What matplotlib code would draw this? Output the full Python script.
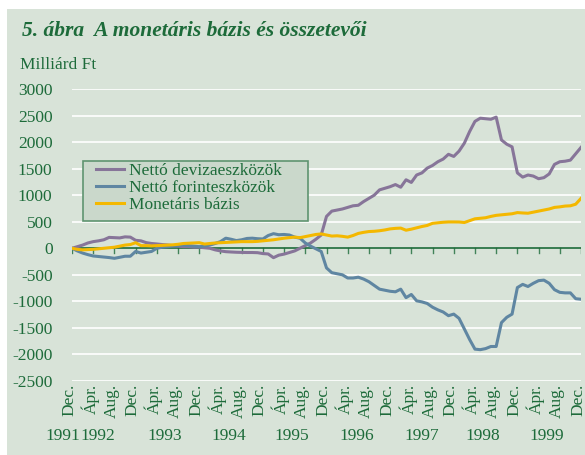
import matplotlib.pyplot as plt
from matplotlib.patches import Rectangle
from matplotlib.transforms import ScaledTranslation

plt.rcParams['font.family'] = ['Liberation Serif', 'DejaVu Serif']

GREEN = "#1d6b3a"
BG = "#d8e3d8"

# monthly values, Dec 1991 .. Dec 1999 (milliárd Ft)
deviza = [0, 30, 60, 100, 125, 140, 160, 205, 200, 195, 215, 210,
          150, 140, 106, 90, 81, 70, 62, 50, 40, 30, 30, 20,
          20, 10, 0, -30, -50, -64, -70, -75, -78, -80, -80, -83,
          -100, -107, -177, -130, -110, -80, -50, 0, 50, 100, 170, 250,
          600, 700, 720, 740, 770, 800, 810, 880, 940, 1000, 1100, 1130,
          1160, 1200, 1150, 1290, 1240, 1380, 1420, 1510, 1560, 1630, 1680, 1770,
          1730, 1830, 1980, 2200, 2390, 2450, 2440, 2430, 2470, 2040, 1960, 1910,
          1420, 1340, 1380, 1360, 1310, 1330, 1400, 1580, 1630, 1640, 1660, 1780,
          1900]
forint = [0, -50, -90, -120, -145, -155, -165, -175, -189, -170, -150, -150,
          -60, -90, -75, -60, 0, 20, 30, 40, 50, 60, 50, 40,
          30, 40, 60, 90, 125, 190, 170, 145, 160, 185, 190, 180,
          175, 240, 275, 255, 260, 250, 210, 190, 100, 40, -10, -60,
          -370, -460, -480, -500, -560, -560, -545, -580, -630, -700, -770, -790,
          -810, -820, -770, -930, -870, -990, -1010, -1040, -1110, -1160, -1200, -1270,
          -1240, -1320, -1520, -1720, -1900, -1910, -1890, -1850, -1850, -1400, -1300, -1240,
          -740, -680, -720, -660, -610, -600, -660, -780, -830, -840, -840, -950,
          -960]
bazis = [0, -20, -30, -25, -20, -10, 0, 10, 20, 40, 60, 70,
         105, 50, 50, 45, 50, 55, 60, 65, 75, 90, 95, 100,
         105, 80, 90, 100, 105, 110, 115, 120, 125, 125, 125, 130,
         140, 150, 160, 175, 190, 200, 210, 200, 220, 240, 260, 270,
         250, 230, 235, 225, 210, 240, 280, 300, 315, 320, 330, 345,
         365, 375, 380, 340, 360, 385, 410, 430, 470, 480, 490, 496,
         496, 495, 485, 520, 555, 565, 575, 600, 620, 630, 640, 650,
         672, 665, 660, 680, 700, 720, 740, 770, 780, 795, 800, 830,
         940]
month_labels = ["Dec.", "Ápr.", "Aug."] * 8 + ["Dec."]
years = ["1991", "1992", "1993", "1994", "1995", "1996", "1997", "1998", "1999"]
yticks = list(range(-2500, 3001, 500))

months = list(range(len(deviza)))

fig = plt.figure(figsize=(5.85, 4.55), dpi=100)
fig.patches.append(Rectangle((7 / 585, 0), 1, 1 - 9 / 455, transform=fig.transFigure,
                             facecolor=BG, edgecolor="none", zorder=-10))
ax = fig.add_axes([72 / 585, 1 - 381 / 455, 509 / 585, 292 / 455])
ax.set_facecolor(BG)
ax.patch.set_alpha(0)

for y in yticks:
    if y != 0:
        ax.axhline(y, color="white", lw=1.2, zorder=1)
ax.axhline(0, color=GREEN, lw=1.2, zorder=2)
for m in range(0, 97, 4):
    ax.plot([m, m], [0, -95], color=GREEN, lw=1, zorder=2, alpha=0.8)

ax.plot(months, deviza, color="#877599", lw=2.2, label="Nettó devizaeszközök", zorder=3)
ax.plot(months, forint, color="#5f86a2", lw=2.2, label="Nettó forinteszközök", zorder=3)
ax.plot(months, bazis, color="#f4b800", lw=2.2, label="Monetáris bázis", zorder=4)

ax.set_xlim(0, 96)
ax.set_ylim(-2500, 3000)
ax.set_yticks(yticks)
ax.set_yticklabels([str(v) for v in yticks], fontsize=12.5, color=GREEN)
ax.set_xticks(range(0, 97, 4))
ax.set_xticklabels(month_labels, rotation=90, fontsize=12.5, color=GREEN, va="top")
ax.tick_params(axis="both", length=0, pad=14)
ax.tick_params(axis="x", pad=2)
shift = ScaledTranslation(-3 / 100, 0, fig.dpi_scale_trans)
for lbl in ax.get_xticklabels():
    lbl.set_transform(lbl.get_transform() + shift)
for s in ax.spines.values():
    s.set_visible(False)

year_x = [-1.8, 4.9, 17.5, 29.5, 41.5, 53.8, 66, 77.5, 89.5]
for yx, yr in zip(year_x, years):
    ax.text(yx, -0.19, yr, transform=ax.get_xaxis_transform(), ha="center", va="center",
            fontsize=12.5, color=GREEN)

ax.add_patch(Rectangle((11 / 509, (381 - 221) / 292), 225 / 509, 60 / 292,
                       transform=ax.transAxes, facecolor="#cad8cb", edgecolor="#5f9470",
                       lw=1.2, zorder=5))
leg = ax.legend(loc="upper left", bbox_to_anchor=(24 / 509, (381 - 163) / 292),
                borderaxespad=0, frameon=False, fontsize=12.5, handlelength=1.6,
                handletextpad=0.3, labelspacing=0.05, borderpad=0)
leg.set_zorder(6)
for t in leg.get_texts():
    t.set_color(GREEN)

fig.text(22 / 585, 1 - 31 / 455, "5. ábra  A monetáris bázis és összetevői", fontsize=15.5,
         fontweight="bold", fontstyle="italic", color=GREEN, va="center")
fig.text(20 / 585, 1 - 65 / 455, "Milliárd Ft", fontsize=12.5, color=GREEN, va="center")

fig.savefig("out.png", dpi=100, facecolor="white")
